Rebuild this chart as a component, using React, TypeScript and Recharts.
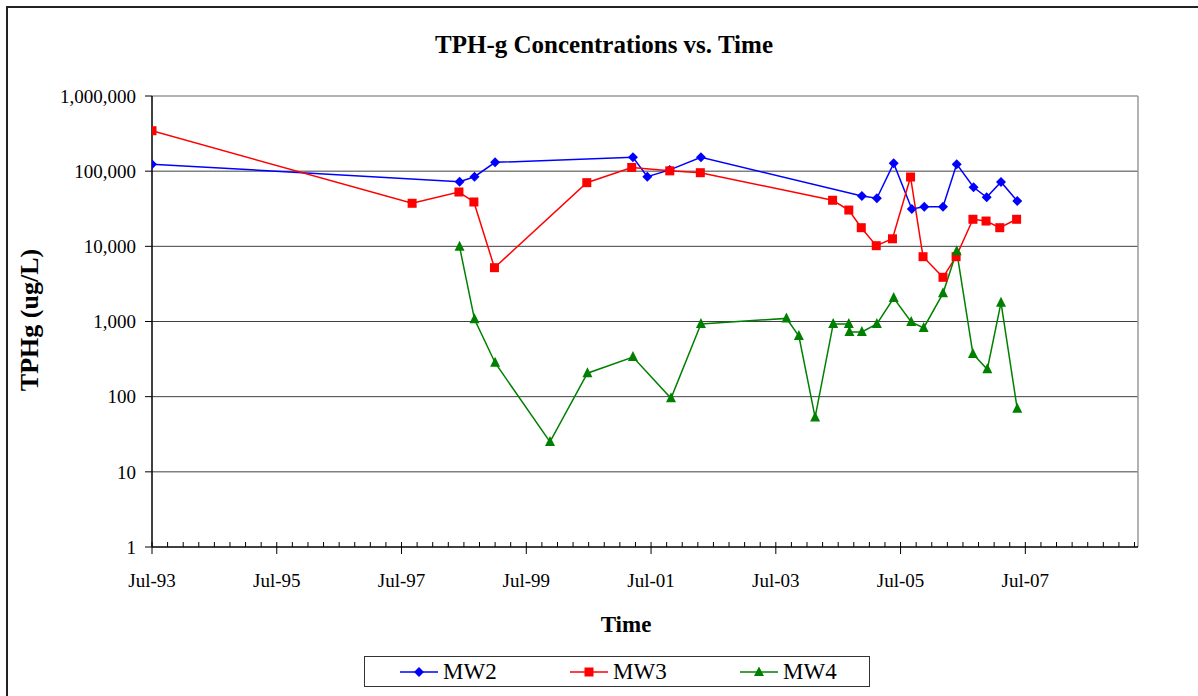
import {
  LineChart,
  Line,
  XAxis,
  YAxis,
  CartesianGrid,
  ReferenceLine,
} from "recharts";

// sample dates as decimal years, values in ug/L
const mw2Dates = [1993.5, 1998.43, 1998.67, 1999.0, 2001.21, 2001.44, 2001.8, 2002.3, 2004.88, 2005.12, 2005.39, 2005.68, 2005.88, 2006.18, 2006.4, 2006.67, 2006.88, 2007.11, 2007.37];
const mw2Values = [124000, 72400, 84400, 131000, 153000, 84400, 104000, 153000, 46700, 43600, 127000, 31400, 33700, 33700, 124000, 61000, 44900, 71800, 40100];

const mw3Dates = [1993.5, 1997.67, 1998.42, 1998.66, 1998.99, 2000.47, 2001.19, 2001.8, 2002.29, 2004.41, 2004.67, 2004.87, 2005.11, 2005.37, 2005.66, 2005.86, 2006.18, 2006.39, 2006.66, 2006.87, 2007.09, 2007.36];
const mw3Values = [345000, 37400, 52800, 38900, 5200, 70300, 112000, 101000, 95400, 41000, 30400, 17700, 10200, 12600, 83600, 7280, 3870, 7280, 22900, 21700, 17700, 22900];

const mw4Dates = [1998.43, 1998.67, 1999.0, 1999.88, 2000.48, 2001.21, 2001.82, 2002.3, 2003.67, 2003.87, 2004.13, 2004.42, 2004.67, 2004.68, 2004.88, 2005.12, 2005.39, 2005.67, 2005.87, 2006.18, 2006.4, 2006.66, 2006.89, 2007.11, 2007.37];
const mw4Values = [9900, 1070, 283, 25, 205, 337, 95, 927, 1100, 641, 53, 927, 927, 725, 725, 927, 2055, 985, 820, 2370, 8590, 370, 231, 1780, 69];

const majorTicks = [1993.5, 1995.5, 1997.5, 1999.5, 2001.5, 2003.5, 2005.5, 2007.5];
const majorLabels = ["Jul-93", "Jul-95", "Jul-97", "Jul-99", "Jul-01", "Jul-03", "Jul-05", "Jul-07"];
const yTicks = [1, 10, 100, 1000, 10000, 100000, 1000000];

const X_MIN = 1993.5;
const X_MAX = 2009.306;
const FONT = "'Liberation Serif', 'Times New Roman', serif";

// quarterly minor ticks between the labelled July ticks
const minorTicks: number[] = [];
for (let t = X_MIN + 0.25; t < X_MAX; t += 0.25) {
  if (!majorTicks.includes(t)) minorTicks.push(t);
}
const allTicks = [...majorTicks, ...minorTicks].sort((a, b) => a - b);

const toRows = (dates: number[], values: number[]) =>
  dates.map((t, i) => ({ t, v: values[i] }));

const mw2 = toRows(mw2Dates, mw2Values);
const mw3 = toRows(mw3Dates, mw3Values);
const mw4 = toRows(mw4Dates, mw4Values);

function TimeTick({ x, y, payload }: any) {
  const idx = majorTicks.indexOf(payload.value);
  if (idx < 0) {
    return <line x1={x} x2={x} y1={y - 5} y2={y} stroke="#000" strokeWidth={1} />;
  }
  return (
    <g>
      <line x1={x} x2={x} y1={y - 5} y2={y + 7} stroke="#000" strokeWidth={1} />
      <text x={x} y={y + 40} textAnchor="middle" fontSize={19} fontFamily={FONT} fill="#000">
        {majorLabels[idx]}
      </text>
    </g>
  );
}

function Diamond({ cx, cy, index }: any) {
  const r = 5;
  return (
    <polygon
      key={`mw2-${index}`}
      points={`${cx},${cy - r} ${cx + r},${cy} ${cx},${cy + r} ${cx - r},${cy}`}
      fill="#0000FF"
    />
  );
}

function Square({ cx, cy, index }: any) {
  const r = 4.5;
  return <rect key={`mw3-${index}`} x={cx - r} y={cy - r} width={2 * r} height={2 * r} fill="#FF0000" />;
}

function Triangle({ cx, cy, index }: any) {
  const r = 5;
  return (
    <polygon
      key={`mw4-${index}`}
      points={`${cx},${cy - r - 1} ${cx + r},${cy + r - 1} ${cx - r},${cy + r - 1}`}
      fill="#008000"
    />
  );
}

const legendItems = [
  { name: "MW2", color: "#0000FF", shape: "diamond" },
  { name: "MW3", color: "#FF0000", shape: "square" },
  { name: "MW4", color: "#008000", shape: "triangle" },
];

function LegendMarker({ color, shape }: { color: string; shape: string }) {
  return (
    <svg width={38} height={14} style={{ display: "block" }}>
      <line x1={0} x2={38} y1={7} y2={7} stroke={color} strokeWidth={1.5} />
      {shape === "diamond" && <polygon points="19,2 24,7 19,12 14,7" fill={color} />}
      {shape === "square" && <rect x={14.5} y={2.5} width={9} height={9} fill={color} />}
      {shape === "triangle" && <polygon points="19,1.5 24,11 14,11" fill={color} />}
    </svg>
  );
}

export default function App() {
  return (
    <div
      style={{
        position: "absolute",
        left: 0,
        top: 0,
        width: 1198,
        height: 696,
        overflow: "hidden",
        background: "#fff",
        fontFamily: FONT,
      }}
    >
      <div
        style={{
          position: "absolute",
          left: 6,
          top: 6,
          width: 1250,
          height: 750,
          border: "2px solid #222",
        }}
      />
      <div
        style={{
          position: "absolute",
          left: 0,
          width: 1208,
          top: 31,
          textAlign: "center",
          fontSize: 25,
          fontWeight: "bold",
        }}
      >
        TPH-g Concentrations vs. Time
      </div>
      <div
        style={{
          position: "absolute",
          left: 30 - 100,
          top: 320 - 15,
          width: 200,
          height: 30,
          lineHeight: "30px",
          textAlign: "center",
          fontSize: 26,
          fontWeight: "bold",
          transform: "rotate(-90deg)",
        }}
      >
        TPHg (ug/L)
      </div>
      <div
        style={{
          position: "absolute",
          left: 526,
          width: 200,
          top: 612,
          textAlign: "center",
          fontSize: 23,
          fontWeight: "bold",
        }}
      >
        Time
      </div>

      <div style={{ position: "absolute", left: 0, top: 0 }}>
        <LineChart
          width={1198}
          height={696}
          margin={{ top: 96, right: 60, left: 52, bottom: 109 }}
        >
          <CartesianGrid
            horizontal
            vertical={false}
            horizontalValues={[10, 100, 1000, 10000, 100000]}
            stroke="#404040"
            strokeWidth={1}
          />
          <ReferenceLine y={1000000} stroke="#9a9a9a" strokeWidth={1.5} />
          <ReferenceLine x={X_MAX} stroke="#9a9a9a" strokeWidth={1.5} />
          <XAxis
            type="number"
            dataKey="t"
            domain={[X_MIN, X_MAX]}
            allowDataOverflow
            ticks={allTicks}
            interval={0}
            tick={<TimeTick />}
            tickLine={false}
            tickSize={0}
            tickMargin={0}
            height={40}
            axisLine={{ stroke: "#000", strokeWidth: 1.5 }}
          />
          <YAxis
            type="number"
            scale="log"
            domain={[1, 1000000]}
            allowDataOverflow
            ticks={yTicks}
            interval={0}
            width={100}
            tickSize={7}
            tickMargin={9}
            tickFormatter={(v: number) => v.toLocaleString("en-US")}
            tick={{ fontSize: 19, fill: "#000", fontFamily: FONT }}
            tickLine={{ stroke: "#000" }}
            axisLine={{ stroke: "#000", strokeWidth: 1.5 }}
          />
          <Line
            data={mw2}
            dataKey="v"
            name="MW2"
            type="linear"
            stroke="#0000FF"
            strokeWidth={1.5}
            dot={Diamond}
            activeDot={false}
            isAnimationActive={false}
          />
          <Line
            data={mw3}
            dataKey="v"
            name="MW3"
            type="linear"
            stroke="#FF0000"
            strokeWidth={1.5}
            dot={Square}
            activeDot={false}
            isAnimationActive={false}
          />
          <Line
            data={mw4}
            dataKey="v"
            name="MW4"
            type="linear"
            stroke="#008000"
            strokeWidth={1.5}
            dot={Triangle}
            activeDot={false}
            isAnimationActive={false}
          />
        </LineChart>
      </div>

      <div
        style={{
          position: "absolute",
          left: 364,
          top: 656,
          width: 504,
          height: 29,
          border: "1.5px solid #333",
          display: "flex",
          alignItems: "center",
        }}
      >
        {legendItems.map((item, i) => (
          <div
            key={item.name}
            style={{
              position: "absolute",
              left: 35 + i * 170,
              top: 0,
              height: 29,
              display: "flex",
              alignItems: "center",
              gap: 5,
              fontSize: 23,
            }}
          >
            <LegendMarker color={item.color} shape={item.shape} />
            <span>{item.name}</span>
          </div>
        ))}
      </div>
    </div>
  );
}
